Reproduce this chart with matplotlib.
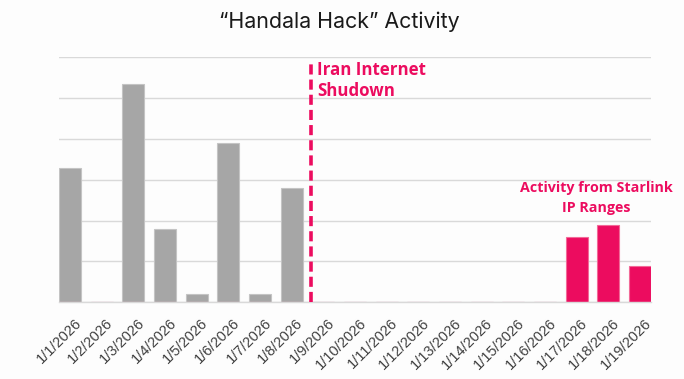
import matplotlib
matplotlib.use("Agg")
import matplotlib.pyplot as plt
import matplotlib.transforms as mtransforms

# Daily activity counts, 1-19 January 2026
dates = [f"1/{d}/2026" for d in range(1, 20)]
before_shutdown = [33, 0, 53.5, 18, 2, 39, 2, 28, 0, 0, 0, 0, 0, 0, 0, 0, 0, 0, 0]
starlink = [0, 0, 0, 0, 0, 0, 0, 0, 0, 0, 0, 0, 0, 0, 0, 0, 16, 19, 9]
shutdown_pos = 7.6

GRAY = "#A6A6A6"
GRAY_EDGE = "#C4C4C4"
PINK = "#EC0C5F"
PINK_EDGE = "#F26A98"
BG = "#FDFDFD"

fig = plt.figure(figsize=(6.84, 3.79), dpi=100, facecolor=BG)
ax = fig.add_axes([59 / 684, 76.7 / 379, 592 / 684, 245 / 379], facecolor=BG)

x = list(range(len(dates)))
ax.bar(x, before_shutdown, width=0.7, color=GRAY, edgecolor=GRAY_EDGE, linewidth=0.8, zorder=3)
ax.bar(x, starlink, width=0.7, color=PINK, edgecolor=PINK_EDGE, linewidth=0.8, zorder=3)

ax.set_xlim(-0.35, len(dates) - 1 + 0.35)
ax.set_ylim(0, 60)
ax.set_yticks(range(0, 61, 10))
ax.yaxis.grid(True, color="#D9D9D9", linewidth=1.0, zorder=0)
ax.tick_params(axis="y", left=False, labelleft=False)
ax.tick_params(axis="x", length=0)
for side in ("left", "right", "top"):
    ax.spines[side].set_visible(False)
ax.spines["bottom"].set_color("#D9D9D9")
ax.spines["bottom"].set_linewidth(1.0)
ax.spines["bottom"].set_zorder(4)

ax.set_xticks(x)
ax.set_xticklabels(dates, rotation=45, ha="right", va="top", rotation_mode="anchor",
                   fontsize=10.5, family="Liberation Sans", color="#404040")
shift = mtransforms.ScaledTranslation(4 / 100, -9 / 100, fig.dpi_scale_trans)
for lbl in ax.get_xticklabels():
    lbl.set_transform(lbl.get_transform() + shift)

# Shutdown marker
ax.plot([shutdown_pos, shutdown_pos], [0, 58.9], color=PINK, linewidth=2.6,
        linestyle=(0, (2.8, 1.4)), zorder=5, solid_capstyle="butt")
ax.text(shutdown_pos + 0.2, 59.2, "Iran Internet\nShudown", color=PINK, fontsize=12.2,
        fontweight="bold", family="Open Sans", ha="left", va="top", linespacing=1.25)

ax.text(16.63, 29.6, "Activity from Starlink\nIP Ranges", color=PINK, fontsize=10.3,
        fontweight="bold", family="Open Sans", ha="center", va="top", linespacing=1.5)

fig.text(339 / 684, (379 - 28.5) / 379, "\u201cHandala Hack\u201d Activity", ha="center",
         va="baseline", fontsize=15.4, family="Inter", color="#1A1A1A")

fig.savefig("out.png", dpi=100, facecolor=BG)
